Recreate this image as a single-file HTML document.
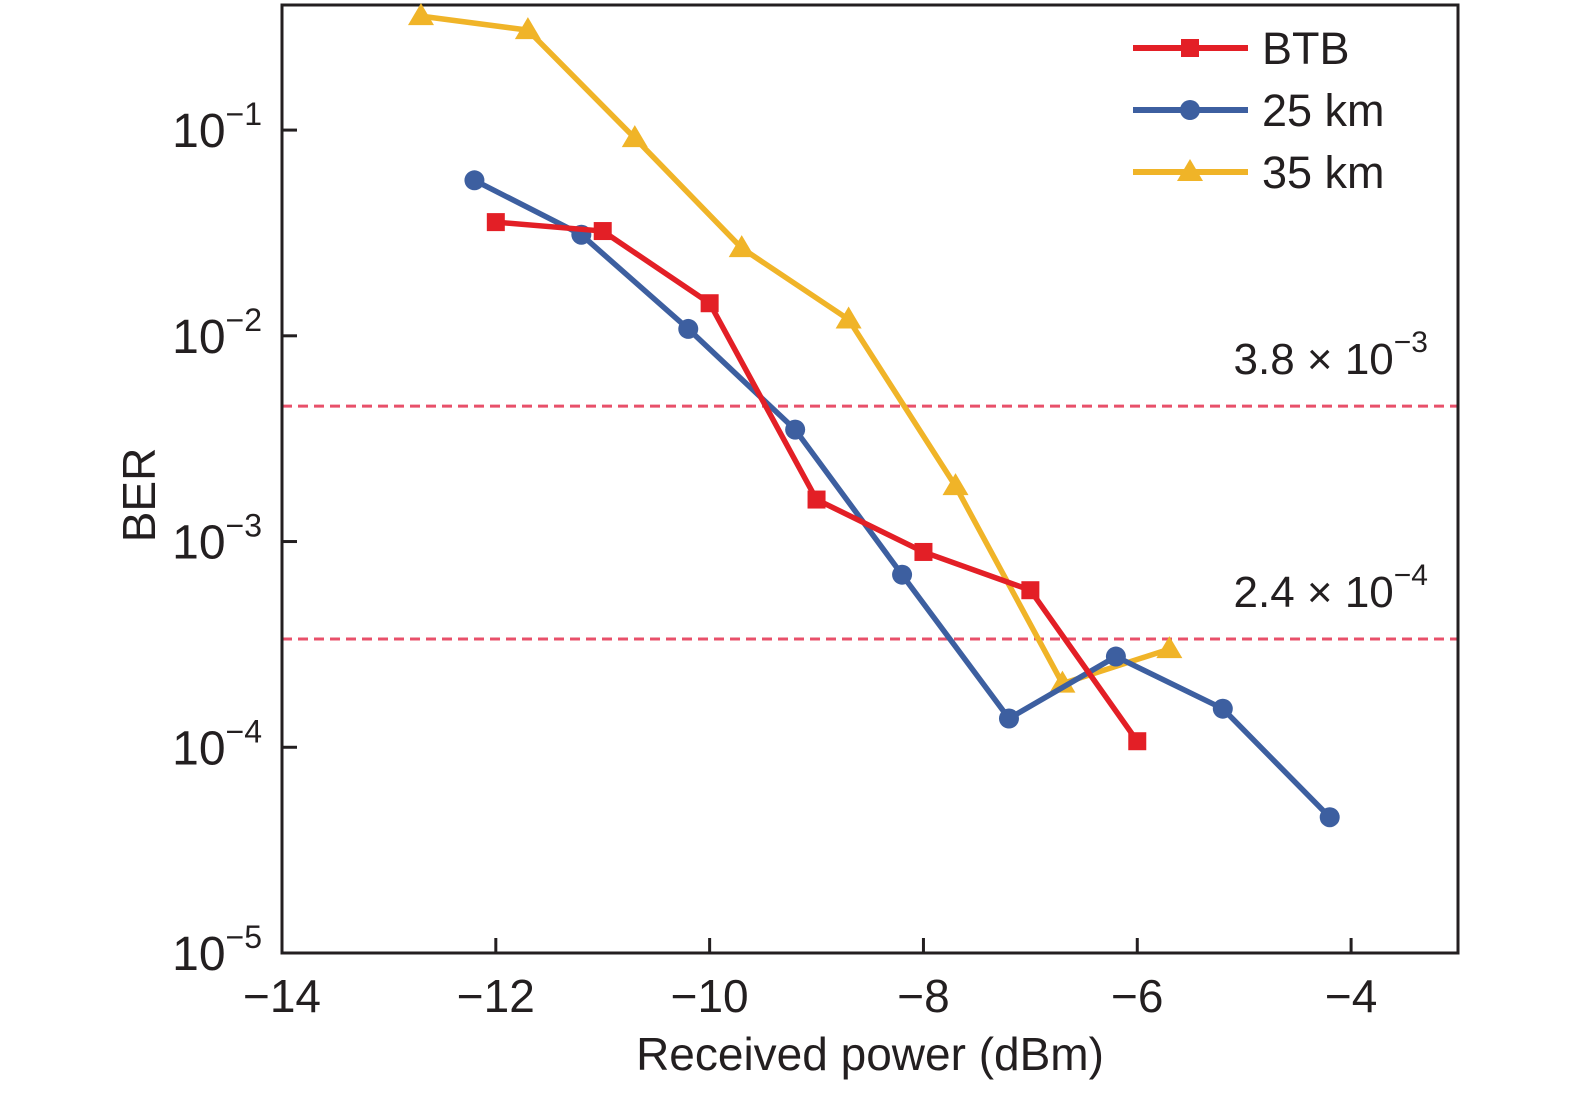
<!DOCTYPE html>
<html><head><meta charset="utf-8"><style>
html,body{margin:0;padding:0;background:#fff;}
svg text{font-family:"Liberation Sans",sans-serif;fill:#231f20;}
</style></head><body>
<svg id="chart" width="1575" height="1093" viewBox="0 0 1575 1093" xmlns="http://www.w3.org/2000/svg">
<g id="grid"></g>
<rect x="282" y="5" width="1176" height="948" fill="none" stroke="#231f20" stroke-width="3"/>
<g id="axes"></g>
<g id="series"></g>
<g id="legend"></g>
<text x="155" y="495" font-size="46" text-anchor="middle" transform="rotate(-90 155 495)">BER</text>
<text x="870" y="1070" font-size="46" text-anchor="middle">Received power (dBm)</text>
</svg>
<script>
const xTicks = [-14, -12, -10, -8, -6, -4];
const yTickExps = [-1, -2, -3, -4, -5];
const btbX = [-12, -11, -10, -9, -8, -7, -6];
const btbY = [0.0357, 0.0323, 0.0144, 0.0016, 0.00089, 0.00058, 0.000107];
const km25X = [-12.2, -11.2, -10.2, -9.2, -8.2, -7.2, -6.2, -5.2, -4.2];
const km25Y = [0.057, 0.031, 0.0108, 0.0035, 0.00069, 0.000138, 0.000276, 0.000154, 0.0000457];
const km35X = [-12.7, -11.7, -10.7, -9.7, -8.7, -7.7, -6.7, -5.7];
const km35Y = [0.358, 0.306, 0.0914, 0.0267, 0.012, 0.00186, 0.000204, 0.0003];
const thresholds = [0.00455, 0.000336];
const thresholdLabels = [["3.8", "−3"], ["2.4", "−4"]];

const NS = "http://www.w3.org/2000/svg";
const X0 = 282, X1 = 1458, xMin = -14, xMax = -3;
const Ytop = 5, Ybot = 953, lMax = Math.log10(0.4055), lMin = -5;
function xs(v){ return X0 + (v - xMin) / (xMax - xMin) * (X1 - X0); }
function ys(v){ return Ytop + (lMax - Math.log10(v)) / (lMax - lMin) * (Ybot - Ytop); }
function mk(tag, attrs, parent){ const e = document.createElementNS(NS, tag); for (const k in attrs) e.setAttribute(k, attrs[k]); parent.appendChild(e); return e; }

const axes = document.getElementById('axes');
xTicks.forEach(t => {
  const x = xs(t);
  const tk = mk('line', {x1:x, x2:x, y1:Ybot, y2:Ybot-15, stroke:'#231f20', 'stroke-width':3}, axes);
  
  
  const lb = mk('text', {x:x, y:1012, 'font-size':46, 'text-anchor':'middle'}, axes);
  
  
  lb.textContent = '−' + Math.abs(t);
});
yTickExps.forEach(e => {
  const y = ys(Math.pow(10, e));
  if (e > -5) {
    const tk = mk('line', {x1:X0, x2:X0+15, y1:y, y2:y, stroke:'#231f20', 'stroke-width':3}, axes);
    
    
  }
  const lb = mk('text', {x:262, y:y+17, 'font-size':48, 'text-anchor':'end'}, axes);
  
  
  lb.appendChild(document.createTextNode('10'));
  const sp = mk('tspan', {'font-size':32, dy:-22}, lb);
  sp.textContent = '−' + Math.abs(e);
});

const grid = document.getElementById('grid');
thresholds.forEach((t, i) => {
  const y = ys(t);
  const ln = mk('line', {x1:X0, x2:X1, y1:y, y2:y, stroke:'#e8506a', 'stroke-width':3, 'stroke-dasharray':'10 6'}, grid);
  
  
  const tx = mk('text', {x:1428, y:y-32, 'font-size':44, 'text-anchor':'end'}, grid);
  
  
  tx.appendChild(document.createTextNode(thresholdLabels[i][0] + ' × 10'));
  const sp = mk('tspan', {'font-size':30, dy:-22}, tx);
  sp.textContent = thresholdLabels[i][1];
});

const series = document.getElementById('series');
function marker(type, x, y, color, parent){
  let m;
  if (type === 'sq') m = mk('rect', {x:x-9, y:y-9, width:18, height:18, fill:color}, parent);
  else if (type === 'ci') m = mk('circle', {cx:x, cy:y, r:10, fill:color}, parent);
  else m = mk('polygon', {points:`${x},${y-13} ${x+13},${y+9} ${x-13},${y+9}`, fill:color}, parent);
  return m;
}
function drawSeries(name, X, Y, color, type){
  const g = mk('g', {}, series);
  
  
  const pl = mk('polyline', {points: X.map((v,i)=>xs(v)+','+ys(Y[i])).join(' '), fill:'none', stroke:color, 'stroke-width':5.5, 'stroke-linejoin':'round'}, g);
  
  
  X.forEach((v,i) => {
    const m = marker(type, xs(v), ys(Y[i]), color, g);
    
    
  });
}
drawSeries('35km', km35X, km35Y, '#f0b428', 'tr');
drawSeries('25km', km25X, km25Y, '#3d5fa0', 'ci');
drawSeries('btb', btbX, btbY, '#e31f26', 'sq');

const legend = document.getElementById('legend');
const legItems = [['BTB', '#e31f26', 'sq', 48], ['25 km', '#3d5fa0', 'ci', 110], ['35 km', '#f0b428', 'tr', 172]];
legItems.forEach(it => {
  const g = mk('g', {}, legend);
  
  
  mk('line', {x1:1133, x2:1248, y1:it[3], y2:it[3], stroke:it[1], 'stroke-width':6}, g);
  marker(it[2], 1190, it[3], it[1], g);
  const t = mk('text', {x:1262, y:it[3]+16, 'font-size':45}, g);
  t.textContent = it[0];
});
</script>
</body></html>
